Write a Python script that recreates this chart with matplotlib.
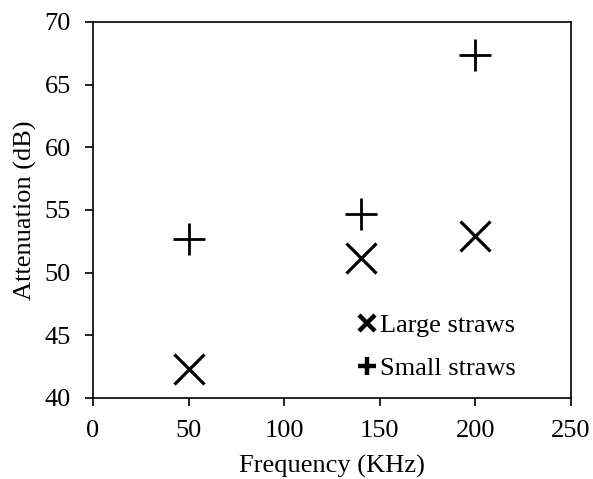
import matplotlib
matplotlib.use("Agg")
import matplotlib.pyplot as plt

freq = [50, 140, 200]
large_straws = [42.3, 51.2, 52.9]
small_straws = [52.7, 54.7, 67.4]
xticks = [0, 50, 100, 150, 200, 250]
yticks = [40, 45, 50, 55, 60, 65, 70]

plt.rcParams['font.family'] = ['Liberation Serif', 'DejaVu Serif']
fig = plt.figure(figsize=(5.93, 4.79), dpi=100)
ax = fig.add_axes([93/593, 81/479, 478/593, 376/479])

ax.plot(freq, large_straws, linestyle='none', marker='x', markersize=21,
        markeredgewidth=2.3, color='black', label='Large straws')
ax.plot(freq, small_straws, linestyle='none', marker='+', markersize=23,
        markeredgewidth=2.0, color='black', label='Small straws')

ax.set_xlim(0, 250)
ax.set_ylim(40, 70)
ax.set_xticks(xticks)
ax.set_yticks(yticks)
ax.tick_params(direction='out', length=6, width=1.2, labelsize=19, pad=10)
for s in ax.spines.values():
    s.set_linewidth(1.2)
ax.set_xlabel('Frequency (KHz)', fontsize=19, labelpad=9)
ax.set_ylabel('Attenuation (dB)', fontsize=19, labelpad=5)

leg = ax.legend(loc='lower right', bbox_to_anchor=(0.935, -0.015), frameon=False,
                fontsize=19, markerscale=0.55, handlelength=0.7,
                handletextpad=0.15, labelspacing=0.72)
for h in leg.legend_handles:
    h.set_markeredgewidth(3.2)

fig.savefig('out.png', dpi=100)
